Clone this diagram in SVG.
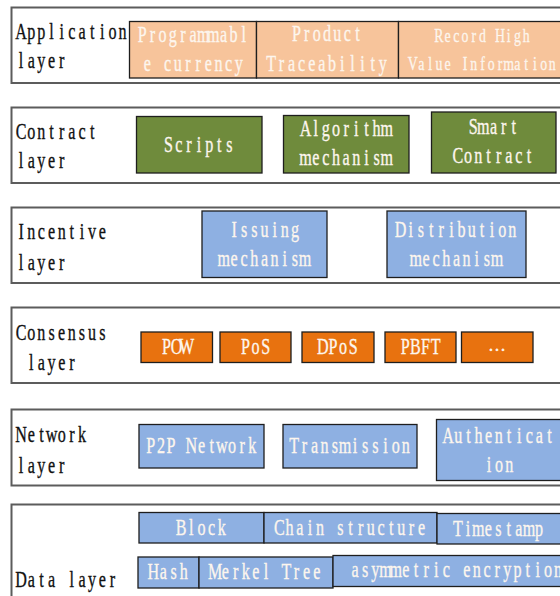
<svg xmlns="http://www.w3.org/2000/svg" width="560" height="596" viewBox="0 0 560 596">
  <style>
    .layer { fill: #ffffff; stroke: #5c5c5c; stroke-width: 2; }
    .cell { stroke: #1e1e1e; stroke-width: 1.3; }
    .app { fill: #f7c49b; }
    .con { fill: #6f8b3c; }
    .blue { fill: #8eb0e2; }
    .org { fill: #e8720f; }
    /* every glyph is centred in a fixed-width cell (x list), giving a narrow monospaced serif look */
    text { font-family: "Liberation Serif", "DejaVu Serif", serif; font-size: 23px; text-anchor: middle; stroke-width: 0.35; }
    .lbl { fill: #111111; stroke: #111111; }
    .in { fill: #fdf6ee; stroke: #fdf6ee; }
  </style>

  <!-- Application layer -->
  <g id="application-layer">
    <rect class="layer" x="11.5" y="7.5" width="580" height="75.5"/>
    <text class="lbl" transform="matrix(0.7 0 0 1 16 39)" x="7.25 21.75 36.25 50.75 65.25 79.75 94.25 108.75 123.25 137.75 152.25 166.75 181.25 195.75 210.25 224.75 239.25 253.75 268.25 282.75 297.25">Application</text>
    <text class="lbl" transform="matrix(0.7 0 0 1 16 68)" x="7.25 21.75 36.25 50.75 65.25 79.75 94.25 108.75 123.25 137.75 152.25 166.75 181.25 195.75 210.25 224.75 239.25 253.75 268.25 282.75 297.25">layer</text>
  </g>
  <g id="programmable-currency">
    <rect class="cell app" x="129.5" y="21.5" width="127" height="56.5"/>
    <text class="in" transform="matrix(0.7 0 0 1 137.2 42)" x="7.25 21.75 36.25 50.75 65.25 79.75 94.25 108.75 123.25 137.75 152.25 166.75 181.25 195.75 210.25 224.75 239.25 253.75 268.25 282.75 297.25">Programmabl</text>
    <text class="in" transform="matrix(0.7 0 0 1 142.3 71)" x="7.25 21.75 36.25 50.75 65.25 79.75 94.25 108.75 123.25 137.75 152.25 166.75 181.25 195.75 210.25 224.75 239.25 253.75 268.25 282.75 297.25">e currency</text>
  </g>
  <g id="product-traceability">
    <rect class="cell app" x="256.5" y="21.5" width="142" height="56.5"/>
    <text class="in" transform="matrix(0.7 0 0 1 291.5 41)" x="7.25 21.75 36.25 50.75 65.25 79.75 94.25 108.75 123.25 137.75 152.25 166.75 181.25 195.75 210.25 224.75 239.25 253.75 268.25 282.75 297.25">Product</text>
    <text class="in" transform="matrix(0.7 0 0 1 266.1 71)" x="7.25 21.75 36.25 50.75 65.25 79.75 94.25 108.75 123.25 137.75 152.25 166.75 181.25 195.75 210.25 224.75 239.25 253.75 268.25 282.75 297.25">Traceability</text>
  </g>
  <g id="record-high-value">
    <rect class="cell app" x="398.5" y="21.5" width="170" height="56.5"/>
    <text class="in" transform="matrix(0.602 0 0 0.86 434.5 42)" x="7.25 21.75 36.25 50.75 65.25 79.75 94.25 108.75 123.25 137.75 152.25 166.75 181.25 195.75 210.25 224.75 239.25 253.75 268.25 282.75 297.25">Record High</text>
    <text class="in" transform="matrix(0.602 0 0 0.86 408.3 70)" x="7.25 21.75 36.25 50.75 65.25 79.75 94.25 108.75 123.25 137.75 152.25 166.75 181.25 195.75 210.25 224.75 239.25 253.75 268.25 282.75 297.25">Value Information</text>
  </g>

  <!-- Contract layer -->
  <g id="contract-layer">
    <rect class="layer" x="11.5" y="107.5" width="580" height="75.5"/>
    <text class="lbl" transform="matrix(0.7 0 0 1 16 139)" x="7.25 21.75 36.25 50.75 65.25 79.75 94.25 108.75 123.25 137.75 152.25 166.75 181.25 195.75 210.25 224.75 239.25 253.75 268.25 282.75 297.25">Contract</text>
    <text class="lbl" transform="matrix(0.7 0 0 1 16 168)" x="7.25 21.75 36.25 50.75 65.25 79.75 94.25 108.75 123.25 137.75 152.25 166.75 181.25 195.75 210.25 224.75 239.25 253.75 268.25 282.75 297.25">layer</text>
  </g>
  <g id="scripts">
    <rect class="cell con" x="136.5" y="116.5" width="125.5" height="56.5"/>
    <text class="in" transform="matrix(0.7 0 0 1 163.5 152)" x="7.25 21.75 36.25 50.75 65.25 79.75 94.25 108.75 123.25 137.75 152.25 166.75 181.25 195.75 210.25 224.75 239.25 253.75 268.25 282.75 297.25">Scripts</text>
  </g>
  <g id="algorithm-mechanism">
    <rect class="cell con" x="283.5" y="115.5" width="125.5" height="57.5"/>
    <text class="in" transform="matrix(0.7 0 0 1 300.5 136)" x="7.25 21.75 36.25 50.75 65.25 79.75 94.25 108.75 123.25 137.75 152.25 166.75 181.25 195.75 210.25 224.75 239.25 253.75 268.25 282.75 297.25">Algorithm</text>
    <text class="in" transform="matrix(0.7 0 0 1 300.5 165)" x="7.25 21.75 36.25 50.75 65.25 79.75 94.25 108.75 123.25 137.75 152.25 166.75 181.25 195.75 210.25 224.75 239.25 253.75 268.25 282.75 297.25">mechanism</text>
  </g>
  <g id="smart-contract">
    <rect class="cell con" x="431.5" y="112" width="124.5" height="61"/>
    <text class="in" transform="matrix(0.7 0 0 1 468.1 134)" x="7.25 21.75 36.25 50.75 65.25 79.75 94.25 108.75 123.25 137.75 152.25 166.75 181.25 195.75 210.25 224.75 239.25 253.75 268.25 282.75 297.25">Smart</text>
    <text class="in" transform="matrix(0.7 0 0 1 452.9 163)" x="7.25 21.75 36.25 50.75 65.25 79.75 94.25 108.75 123.25 137.75 152.25 166.75 181.25 195.75 210.25 224.75 239.25 253.75 268.25 282.75 297.25">Contract</text>
  </g>

  <!-- Incentive layer -->
  <g id="incentive-layer">
    <rect class="layer" x="11.5" y="207.5" width="580" height="75.5"/>
    <text class="lbl" transform="matrix(0.7 0 0 1 16 239)" x="7.25 21.75 36.25 50.75 65.25 79.75 94.25 108.75 123.25 137.75 152.25 166.75 181.25 195.75 210.25 224.75 239.25 253.75 268.25 282.75 297.25">Incentive</text>
    <text class="lbl" transform="matrix(0.7 0 0 1 16 270)" x="7.25 21.75 36.25 50.75 65.25 79.75 94.25 108.75 123.25 137.75 152.25 166.75 181.25 195.75 210.25 224.75 239.25 253.75 268.25 282.75 297.25">layer</text>
  </g>
  <g id="issuing-mechanism">
    <rect class="cell blue" x="202" y="211" width="125" height="66.5"/>
    <text class="in" transform="matrix(0.7 0 0 1 229 237)" x="7.25 21.75 36.25 50.75 65.25 79.75 94.25 108.75 123.25 137.75 152.25 166.75 181.25 195.75 210.25 224.75 239.25 253.75 268.25 282.75 297.25">Issuing</text>
    <text class="in" transform="matrix(0.7 0 0 1 218.8 266)" x="7.25 21.75 36.25 50.75 65.25 79.75 94.25 108.75 123.25 137.75 152.25 166.75 181.25 195.75 210.25 224.75 239.25 253.75 268.25 282.75 297.25">mechanism</text>
  </g>
  <g id="distribution-mechanism">
    <rect class="cell blue" x="387" y="211" width="139" height="66.5"/>
    <text class="in" transform="matrix(0.7 0 0 1 395.6 237)" x="7.25 21.75 36.25 50.75 65.25 79.75 94.25 108.75 123.25 137.75 152.25 166.75 181.25 195.75 210.25 224.75 239.25 253.75 268.25 282.75 297.25">Distribution</text>
    <text class="in" transform="matrix(0.7 0 0 1 410.8 266)" x="7.25 21.75 36.25 50.75 65.25 79.75 94.25 108.75 123.25 137.75 152.25 166.75 181.25 195.75 210.25 224.75 239.25 253.75 268.25 282.75 297.25">mechanism</text>
  </g>

  <!-- Consensus layer -->
  <g id="consensus-layer">
    <rect class="layer" x="11.5" y="307.5" width="580" height="75.5"/>
    <text class="lbl" transform="matrix(0.7 0 0 1 16 340)" x="7.25 21.75 36.25 50.75 65.25 79.75 94.25 108.75 123.25 137.75 152.25 166.75 181.25 195.75 210.25 224.75 239.25 253.75 268.25 282.75 297.25">Consensus</text>
    <text class="lbl" transform="matrix(0.7 0 0 1 26.2 370)" x="7.25 21.75 36.25 50.75 65.25 79.75 94.25 108.75 123.25 137.75 152.25 166.75 181.25 195.75 210.25 224.75 239.25 253.75 268.25 282.75 297.25">layer</text>
  </g>
  <g id="pow">
    <rect class="cell org" x="141" y="332" width="71.5" height="30.5"/>
    <text class="in" transform="matrix(0.7 0 0 1 161.3 354)" x="7.25 21.75 36.25 50.75 65.25 79.75 94.25 108.75 123.25 137.75 152.25 166.75 181.25 195.75 210.25 224.75 239.25 253.75 268.25 282.75 297.25">POW</text>
  </g>
  <g id="pos">
    <rect class="cell org" x="220" y="332" width="71" height="30.5"/>
    <text class="in" transform="matrix(0.7 0 0 1 240.3 354)" x="7.25 21.75 36.25 50.75 65.25 79.75 94.25 108.75 123.25 137.75 152.25 166.75 181.25 195.75 210.25 224.75 239.25 253.75 268.25 282.75 297.25">PoS</text>
  </g>
  <g id="dpos">
    <rect class="cell org" x="302" y="332" width="72" height="30.5"/>
    <text class="in" transform="matrix(0.7 0 0 1 317.7 354)" x="7.25 21.75 36.25 50.75 65.25 79.75 94.25 108.75 123.25 137.75 152.25 166.75 181.25 195.75 210.25 224.75 239.25 253.75 268.25 282.75 297.25">DPoS</text>
  </g>
  <g id="pbft">
    <rect class="cell org" x="385" y="332" width="71" height="30.5"/>
    <text class="in" transform="matrix(0.7 0 0 1 400.2 354)" x="7.25 21.75 36.25 50.75 65.25 79.75 94.25 108.75 123.25 137.75 152.25 166.75 181.25 195.75 210.25 224.75 239.25 253.75 268.25 282.75 297.25">PBFT</text>
  </g>
  <g id="more-consensus">
    <rect class="cell org" x="461.5" y="332" width="71.5" height="30.5"/>
    <text class="in" x="497" y="351" style="font-size:18px">…</text>
  </g>

  <!-- Network layer -->
  <g id="network-layer">
    <rect class="layer" x="11.5" y="409.5" width="580" height="76"/>
    <text class="lbl" transform="matrix(0.7 0 0 1 16 442)" x="7.25 21.75 36.25 50.75 65.25 79.75 94.25 108.75 123.25 137.75 152.25 166.75 181.25 195.75 210.25 224.75 239.25 253.75 268.25 282.75 297.25">Network</text>
    <text class="lbl" transform="matrix(0.7 0 0 1 16 473)" x="7.25 21.75 36.25 50.75 65.25 79.75 94.25 108.75 123.25 137.75 152.25 166.75 181.25 195.75 210.25 224.75 239.25 253.75 268.25 282.75 297.25">layer</text>
  </g>
  <g id="p2p-network">
    <rect class="cell blue" x="139" y="424.5" width="125" height="43.5"/>
    <text class="in" transform="matrix(0.7 0 0 1 145.7 453)" x="7.25 21.75 36.25 50.75 65.25 79.75 94.25 108.75 123.25 137.75 152.25 166.75 181.25 195.75 210.25 224.75 239.25 253.75 268.25 282.75 297.25">P2P Network</text>
  </g>
  <g id="transmission">
    <rect class="cell blue" x="283" y="424.5" width="134" height="43.5"/>
    <text class="in" transform="matrix(0.7 0 0 1 289.1 453)" x="7.25 21.75 36.25 50.75 65.25 79.75 94.25 108.75 123.25 137.75 152.25 166.75 181.25 195.75 210.25 224.75 239.25 253.75 268.25 282.75 297.25">Transmission</text>
  </g>
  <g id="authentication">
    <rect class="cell blue" x="436.5" y="419.5" width="130" height="61"/>
    <text class="in" transform="matrix(0.7 0 0 1 443 443)" x="7.25 21.75 36.25 50.75 65.25 79.75 94.25 108.75 123.25 137.75 152.25 166.75 181.25 195.75 210.25 224.75 239.25 253.75 268.25 282.75 297.25">Authenticat</text>
    <text class="in" transform="matrix(0.7 0 0 1 483.8 472)" x="7.25 21.75 36.25 50.75 65.25 79.75 94.25 108.75 123.25 137.75 152.25 166.75 181.25 195.75 210.25 224.75 239.25 253.75 268.25 282.75 297.25">ion</text>
  </g>

  <!-- Data layer -->
  <g id="data-layer">
    <rect class="layer" x="11.5" y="504.5" width="580" height="110"/>
    <text class="lbl" transform="matrix(0.7 0 0 1 16 587)" x="7.25 21.75 36.25 50.75 65.25 79.75 94.25 108.75 123.25 137.75 152.25 166.75 181.25 195.75 210.25 224.75 239.25 253.75 268.25 282.75 297.25">Data layer</text>
  </g>
  <g id="block">
    <rect class="cell blue" x="139" y="512.5" width="125" height="30.5"/>
    <text class="in" transform="matrix(0.7 0 0 1 176.1 535)" x="7.25 21.75 36.25 50.75 65.25 79.75 94.25 108.75 123.25 137.75 152.25 166.75 181.25 195.75 210.25 224.75 239.25 253.75 268.25 282.75 297.25">Block</text>
  </g>
  <g id="chain-structure">
    <rect class="cell blue" x="264" y="512.5" width="173" height="30.5"/>
    <text class="in" transform="matrix(0.7 0 0 1 274.4 535)" x="7.25 21.75 36.25 50.75 65.25 79.75 94.25 108.75 123.25 137.75 152.25 166.75 181.25 195.75 210.25 224.75 239.25 253.75 268.25 282.75 297.25">Chain structure</text>
  </g>
  <g id="timestamp">
    <rect class="cell blue" x="437" y="513.5" width="130" height="30.5"/>
    <text class="in" transform="matrix(0.7 0 0 1 452.8 536)" x="7.25 21.75 36.25 50.75 65.25 79.75 94.25 108.75 123.25 137.75 152.25 166.75 181.25 195.75 210.25 224.75 239.25 253.75 268.25 282.75 297.25">Timestamp</text>
  </g>
  <g id="hash">
    <rect class="cell blue" x="138" y="557" width="61" height="31"/>
    <text class="in" transform="matrix(0.7 0 0 1 148.2 579)" x="7.25 21.75 36.25 50.75 65.25 79.75 94.25 108.75 123.25 137.75 152.25 166.75 181.25 195.75 210.25 224.75 239.25 253.75 268.25 282.75 297.25">Hash</text>
  </g>
  <g id="merkel-tree">
    <rect class="cell blue" x="199" y="557" width="134" height="31"/>
    <text class="in" transform="matrix(0.7 0 0 1 210.2 579)" x="7.25 21.75 36.25 50.75 65.25 79.75 94.25 108.75 123.25 137.75 152.25 166.75 181.25 195.75 210.25 224.75 239.25 253.75 268.25 282.75 297.25">Merkel Tree</text>
  </g>
  <g id="asymmetric-encryption">
    <rect class="cell blue" x="333" y="555.5" width="240" height="31"/>
    <text class="in" transform="matrix(0.7 0 0 1 350 577)" x="7.25 21.75 36.25 50.75 65.25 79.75 94.25 108.75 123.25 137.75 152.25 166.75 181.25 195.75 210.25 224.75 239.25 253.75 268.25 282.75 297.25">asymmetric encryption</text>
  </g>

  <!-- no connectors between layers -->
  <g id="connectors"/>
</svg>
